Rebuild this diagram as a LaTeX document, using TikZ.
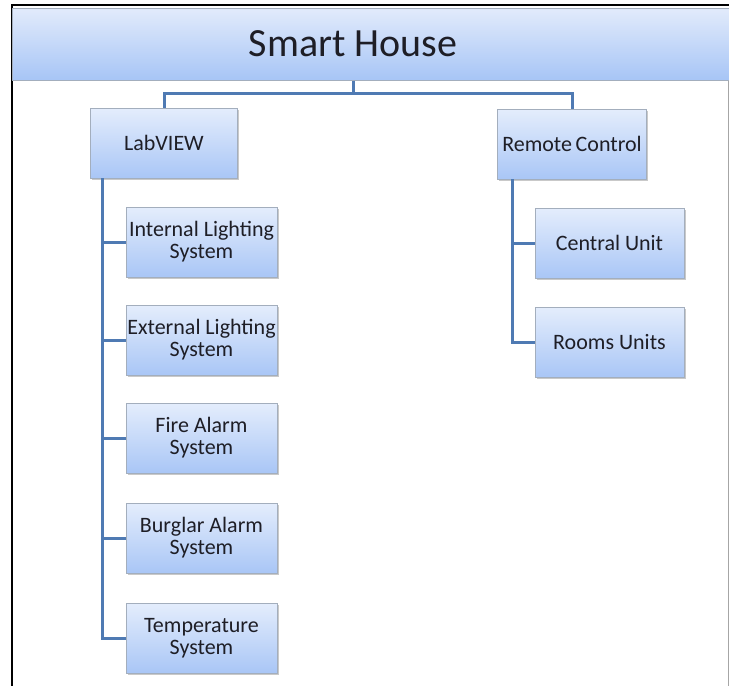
\documentclass[tikz,border=0pt]{standalone}
\usepackage{fontspec}
\setmainfont{Carlito}
\usetikzlibrary{shadows}
\definecolor{boxtop}{HTML}{E4EDFC}
\definecolor{boxbot}{HTML}{A9C6F6}
\definecolor{boxline}{HTML}{A3AEBD}
\definecolor{conncol}{HTML}{4F7AB3}
\definecolor{txtcol}{HTML}{1E1E26}
\definecolor{bandtop}{HTML}{E2EBFB}
\definecolor{bandbot}{HTML}{A7C5F6}
\tikzset{
  px/.style={x=1pt,y=-1pt},
  box/.style={rectangle, draw=boxline, line width=0.8pt, top color=boxtop, bottom color=boxbot,
    minimum height=70pt, align=center, text=txtcol, inner xsep=1pt,
    font=\fontsize{22}{22}\selectfont,
    drop shadow={shadow xshift=1.5pt, shadow yshift=-1.5pt, fill=black!35, opacity=0.6}},
  lbox/.style={box, minimum width=151pt},
  rbox/.style={box, minimum width=149pt},
  conn/.style={draw=conncol, line width=3pt},
  band/.style={rectangle, draw=boxline, line width=1pt, top color=bandtop, bottom color=bandbot,
    minimum width=717pt, minimum height=72pt, inner sep=0pt},
}
\begin{document}
\begin{tikzpicture}[px]
\useasboundingbox (0,0) rectangle (729,686);
\fill[white] (0,0) rectangle (729,686);
% frame
\draw[black, line width=1.5pt] (12,686) -- (12,5) -- (729,5);
\draw[black!35, line width=1pt] (728,80) -- (728,686);
% header band
\node[band] (hdr) at (370.5,44) {};
\node[text=txtcol, font=\fontsize{40}{44}\selectfont] (title) at (353,44) {Smart House};
\coordinate (hb) at (title |- hdr.south);
% level 1
\node[box, minimum width=147pt] (lab) at (164,143) {LabVIEW};
\node[box, minimum width=149pt] (rc) at (572,144) {Remote\,Control};
% left children
\node[lbox] (c1) at (201.5,242) {Internal Lighting\\System};
\node[lbox] (c2) at (201.5,340) {External Lighting\\System};
\node[lbox] (c3) at (201.5,438) {Fire Alarm\\System};
\node[lbox] (c4) at (201.5,538) {Burglar Alarm\\System};
\node[lbox] (c5) at (201.5,638) {Temperature\\System};
% right children
\node[rbox] (r1) at (609.5,243) {Central Unit};
\node[rbox] (r2) at (609.5,342) {Rooms Units};
% connectors
\draw[conn] (hb) -- ++(0,13) coordinate (hm);
\draw[conn] (hm) -| (lab.north);
\draw[conn] (hm) -| (rc.north);
\coordinate (lt) at ([xshift=12pt]lab.south west);
\coordinate (rt) at ([xshift=15pt]rc.south west);
\foreach \c in {c1,c2,c3,c4,c5} \draw[conn] (lt) |- (\c.west);
\foreach \c in {r1,r2} \draw[conn] (rt) |- (\c.west);
\end{tikzpicture}
\end{document}
